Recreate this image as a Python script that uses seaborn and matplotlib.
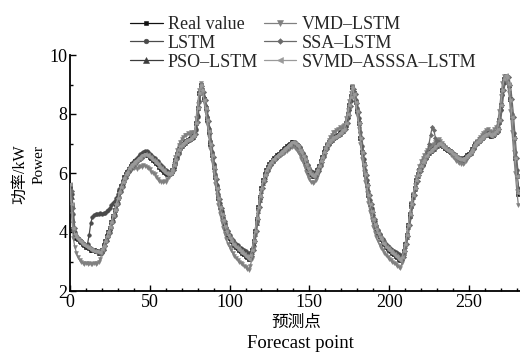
import numpy as np
import pandas as pd
import matplotlib
matplotlib.use("Agg")
import matplotlib.pyplot as plt
from matplotlib.ticker import MultipleLocator
import seaborn as sns

# Forecast points 0..281 and the measured / predicted power (kW)
real_value = [
    5.60, 4.90, 4.10, 3.90, 3.80, 3.75, 3.70, 3.65, 3.60, 3.55,
    3.50, 3.50, 3.45, 3.40, 3.40, 3.38, 3.35, 3.35, 3.30, 3.32,
    3.40, 3.55, 3.70, 3.85, 4.00, 4.15, 4.35, 4.55, 4.75, 4.95,
    5.15, 5.35, 5.55, 5.70, 5.85, 5.95, 6.05, 6.15, 6.25, 6.30,
    6.35, 6.40, 6.45, 6.50, 6.55, 6.60, 6.62, 6.65, 6.62, 6.60,
    6.55, 6.50, 6.45, 6.40, 6.35, 6.30, 6.22, 6.15, 6.10, 6.05,
    6.00, 5.98, 5.97, 6.00, 6.10, 6.25, 6.45, 6.65, 6.80, 6.90,
    6.95, 7.00, 7.05, 7.10, 7.12, 7.15, 7.20, 7.25, 7.30, 7.70,
    8.20, 8.70, 9.00, 8.80, 8.50, 8.20, 7.80, 7.40, 7.00, 6.60,
    6.20, 5.85, 5.50, 5.15, 4.85, 4.60, 4.40, 4.20, 4.05, 3.90,
    3.80, 3.70, 3.62, 3.55, 3.50, 3.45, 3.40, 3.35, 3.30, 3.25,
    3.20, 3.15, 3.10, 3.20, 3.40, 3.70, 4.05, 4.45, 4.85, 5.20,
    5.50, 5.75, 5.95, 6.10, 6.20, 6.30, 6.38, 6.45, 6.50, 6.55,
    6.60, 6.65, 6.70, 6.75, 6.80, 6.85, 6.90, 6.95, 7.00, 7.05,
    7.05, 7.00, 6.95, 6.90, 6.80, 6.70, 6.60, 6.45, 6.30, 6.15,
    6.05, 5.95, 5.90, 5.92, 6.00, 6.10, 6.25, 6.40, 6.55, 6.70,
    6.85, 6.95, 7.05, 7.10, 7.15, 7.20, 7.22, 7.25, 7.30, 7.35,
    7.40, 7.45, 7.50, 7.70, 8.00, 8.30, 8.60, 8.90, 8.70, 8.40,
    8.10, 7.70, 7.20, 6.70, 6.30, 5.95, 5.60, 5.25, 4.95, 4.70,
    4.45, 4.25, 4.10, 3.95, 3.85, 3.75, 3.65, 3.58, 3.50, 3.45,
    3.40, 3.35, 3.30, 3.25, 3.20, 3.15, 3.10, 3.05, 3.15, 3.35,
    3.60, 3.90, 4.25, 4.60, 4.95, 5.25, 5.50, 5.75, 5.95, 6.10,
    6.25, 6.35, 6.45, 6.55, 6.62, 6.70, 6.75, 6.80, 6.85, 6.90,
    6.95, 7.00, 6.98, 6.95, 6.90, 6.85, 6.80, 6.78, 6.75, 6.70,
    6.65, 6.60, 6.55, 6.50, 6.50, 6.45, 6.45, 6.50, 6.55, 6.60,
    6.65, 6.70, 6.80, 6.90, 7.00, 7.05, 7.10, 7.15, 7.20, 7.25,
    7.30, 7.32, 7.35, 7.30, 7.25, 7.30, 7.35, 7.40, 7.50, 7.80,
    8.30, 8.80, 9.20, 9.30, 9.25, 9.00, 8.50, 7.90, 7.20, 6.50,
    5.90, 5.30,
]

lstm = [
    5.50, 5.30, 4.60, 4.00, 3.85, 3.78, 3.72, 3.68, 3.62, 3.58,
    3.55, 3.60, 3.90, 4.30, 4.50, 4.58, 4.60, 4.62, 4.62, 4.65,
    4.62, 4.64, 4.66, 4.70, 4.75, 4.82, 4.90, 5.00, 5.05, 5.15,
    5.30, 5.45, 5.60, 5.75, 5.88, 5.98, 6.08, 6.18, 6.28, 6.35,
    6.40, 6.45, 6.52, 6.58, 6.63, 6.68, 6.72, 6.75, 6.74, 6.70,
    6.66, 6.60, 6.55, 6.50, 6.45, 6.40, 6.33, 6.26, 6.20, 6.14,
    6.10, 6.06, 6.04, 6.05, 6.10, 6.20, 6.35, 6.55, 6.72, 6.85,
    6.92, 6.98, 7.02, 7.06, 7.10, 7.12, 7.16, 7.20, 7.24, 7.45,
    7.90, 8.40, 8.75, 8.80, 8.55, 8.25, 7.90, 7.50, 7.10, 6.70,
    6.32, 5.95, 5.60, 5.28, 4.98, 4.72, 4.50, 4.32, 4.15, 4.02,
    3.90, 3.80, 3.72, 3.65, 3.60, 3.55, 3.50, 3.46, 3.42, 3.38,
    3.35, 3.30, 3.28, 3.30, 3.42, 3.65, 3.98, 4.35, 4.75, 5.12,
    5.42, 5.68, 5.90, 6.05, 6.18, 6.28, 6.36, 6.43, 6.49, 6.54,
    6.59, 6.64, 6.69, 6.74, 6.79, 6.84, 6.89, 6.94, 6.99, 7.03,
    7.06, 7.04, 7.00, 6.95, 6.88, 6.78, 6.68, 6.55, 6.42, 6.28,
    6.17, 6.08, 6.02, 6.00, 6.04, 6.12, 6.22, 6.36, 6.50, 6.65,
    6.80, 6.92, 7.02, 7.08, 7.13, 7.18, 7.21, 7.24, 7.28, 7.33,
    7.38, 7.43, 7.48, 7.60, 7.85, 8.15, 8.45, 8.72, 8.70, 8.48,
    8.20, 7.85, 7.40, 6.92, 6.48, 6.10, 5.75, 5.40, 5.08, 4.82,
    4.58, 4.38, 4.20, 4.06, 3.94, 3.84, 3.75, 3.68, 3.60, 3.54,
    3.49, 3.44, 3.40, 3.36, 3.32, 3.28, 3.24, 3.20, 3.22, 3.36,
    3.58, 3.86, 4.18, 4.52, 4.86, 5.18, 5.45, 5.70, 5.90, 6.06,
    6.20, 6.32, 6.42, 6.52, 6.60, 6.67, 6.73, 6.78, 6.83, 6.88,
    6.93, 6.97, 6.98, 6.96, 6.92, 6.87, 6.82, 6.79, 6.76, 6.72,
    6.67, 6.62, 6.57, 6.53, 6.51, 6.48, 6.47, 6.49, 6.53, 6.58,
    6.63, 6.68, 6.76, 6.86, 6.96, 7.03, 7.08, 7.13, 7.18, 7.23,
    7.28, 7.31, 7.33, 7.31, 7.27, 7.28, 7.33, 7.38, 7.46, 7.70,
    8.15, 8.65, 9.05, 9.20, 9.18, 8.95, 8.55, 8.00, 7.35, 6.70,
    6.10, 5.50,
]

pso_lstm = [
    5.55, 5.20, 4.40, 4.05, 3.88, 3.80, 3.74, 3.69, 3.64, 3.58,
    3.53, 3.50, 3.48, 3.44, 3.41, 3.40, 3.37, 3.35, 3.33, 3.30,
    3.34, 3.45, 3.60, 3.76, 3.92, 4.07, 4.24, 4.44, 4.64, 4.85,
    5.05, 5.25, 5.45, 5.63, 5.78, 5.90, 6.00, 6.10, 6.20, 6.27,
    6.32, 6.38, 6.43, 6.48, 6.53, 6.58, 6.61, 6.64, 6.63, 6.61,
    6.57, 6.52, 6.47, 6.42, 6.37, 6.32, 6.25, 6.18, 6.12, 6.07,
    6.02, 5.99, 5.97, 5.99, 6.06, 6.18, 6.36, 6.56, 6.74, 6.86,
    6.93, 6.98, 7.03, 7.08, 7.11, 7.14, 7.18, 7.23, 7.28, 7.55,
    8.00, 8.50, 8.85, 8.85, 8.60, 8.30, 7.95, 7.55, 7.15, 6.75,
    6.35, 5.98, 5.62, 5.28, 4.96, 4.70, 4.48, 4.28, 4.10, 3.96,
    3.84, 3.74, 3.66, 3.58, 3.52, 3.47, 3.42, 3.37, 3.32, 3.27,
    3.22, 3.17, 3.12, 3.16, 3.32, 3.58, 3.92, 4.30, 4.70, 5.08,
    5.40, 5.66, 5.88, 6.04, 6.16, 6.26, 6.35, 6.42, 6.48, 6.53,
    6.58, 6.63, 6.68, 6.73, 6.78, 6.83, 6.88, 6.93, 6.98, 7.03,
    7.05, 7.02, 6.97, 6.92, 6.84, 6.74, 6.64, 6.50, 6.35, 6.20,
    6.08, 5.98, 5.92, 5.91, 5.97, 6.06, 6.20, 6.35, 6.50, 6.65,
    6.80, 6.91, 7.01, 7.08, 7.13, 7.18, 7.21, 7.24, 7.28, 7.33,
    7.38, 7.43, 7.48, 7.64, 7.92, 8.22, 8.52, 8.80, 8.72, 8.45,
    8.16, 7.78, 7.30, 6.80, 6.38, 6.02, 5.68, 5.33, 5.02, 4.76,
    4.52, 4.30, 4.14, 3.99, 3.88, 3.78, 3.68, 3.60, 3.53, 3.47,
    3.42, 3.37, 3.32, 3.27, 3.22, 3.17, 3.12, 3.08, 3.12, 3.30,
    3.54, 3.84, 4.18, 4.53, 4.88, 5.19, 5.45, 5.70, 5.91, 6.07,
    6.22, 6.33, 6.43, 6.53, 6.60, 6.68, 6.73, 6.78, 6.83, 6.88,
    6.93, 6.98, 6.98, 6.95, 6.91, 6.86, 6.81, 6.78, 6.75, 6.71,
    6.66, 6.61, 6.56, 6.51, 6.50, 6.46, 6.45, 6.48, 6.53, 6.58,
    6.63, 6.68, 6.77, 6.87, 6.97, 7.03, 7.08, 7.13, 7.18, 7.23,
    7.28, 7.31, 7.34, 7.31, 7.26, 7.28, 7.33, 7.38, 7.47, 7.72,
    8.20, 8.70, 9.10, 9.25, 9.22, 8.98, 8.52, 7.95, 7.28, 6.60,
    6.00, 5.40,
]

vmd_lstm = [
    5.40, 4.60, 3.80, 3.50, 3.30, 3.15, 3.05, 3.00, 2.95, 2.92,
    2.95, 2.90, 2.95, 2.92, 2.90, 2.95, 2.92, 2.95, 3.00, 3.10,
    3.25, 3.45, 3.62, 3.80, 3.96, 4.12, 4.30, 4.50, 4.70, 4.90,
    5.10, 5.30, 5.50, 5.66, 5.80, 5.90, 5.98, 6.05, 6.12, 6.15,
    6.18, 6.20, 6.15, 6.22, 6.25, 6.20, 6.28, 6.25, 6.22, 6.18,
    6.12, 6.05, 6.00, 5.95, 5.88, 5.80, 5.72, 5.70, 5.68, 5.72,
    5.70, 5.78, 5.85, 5.95, 6.10, 6.30, 6.55, 6.78, 6.95, 7.05,
    7.15, 7.22, 7.28, 7.30, 7.35, 7.30, 7.38, 7.35, 7.40, 7.85,
    8.35, 8.80, 9.05, 8.75, 8.40, 8.05, 7.65, 7.22, 6.80, 6.40,
    6.00, 5.62, 5.25, 4.90, 4.60, 4.35, 4.12, 3.92, 3.75, 3.60,
    3.48, 3.38, 3.28, 3.20, 3.12, 3.06, 3.00, 2.95, 2.90, 2.85,
    2.82, 2.76, 2.72, 2.85, 3.10, 3.45, 3.85, 4.30, 4.72, 5.10,
    5.42, 5.68, 5.90, 6.05, 6.15, 6.24, 6.32, 6.38, 6.44, 6.48,
    6.52, 6.56, 6.60, 6.64, 6.68, 6.72, 6.76, 6.80, 6.85, 6.88,
    6.90, 6.85, 6.78, 6.70, 6.60, 6.48, 6.36, 6.20, 6.05, 5.90,
    5.78, 5.70, 5.66, 5.68, 5.75, 5.88, 6.05, 6.25, 6.45, 6.65,
    6.85, 7.00, 7.12, 7.22, 7.30, 7.38, 7.40, 7.45, 7.50, 7.55,
    7.50, 7.58, 7.62, 7.85, 8.15, 8.45, 8.72, 8.95, 8.65, 8.30,
    7.95, 7.50, 6.98, 6.48, 6.05, 5.68, 5.32, 4.98, 4.68, 4.42,
    4.18, 3.98, 3.82, 3.68, 3.56, 3.46, 3.38, 3.30, 3.22, 3.16,
    3.10, 3.04, 2.98, 2.94, 2.90, 2.86, 2.82, 2.78, 2.95, 3.20,
    3.50, 3.85, 4.22, 4.60, 4.98, 5.30, 5.58, 5.85, 6.08, 6.25,
    6.40, 6.52, 6.62, 6.70, 6.78, 6.85, 6.90, 6.95, 7.00, 7.05,
    7.10, 7.15, 7.10, 7.02, 6.95, 6.88, 6.80, 6.75, 6.70, 6.62,
    6.55, 6.48, 6.42, 6.38, 6.35, 6.32, 6.30, 6.35, 6.42, 6.50,
    6.58, 6.66, 6.78, 6.90, 7.02, 7.10, 7.16, 7.22, 7.28, 7.35,
    7.40, 7.45, 7.50, 7.42, 7.35, 7.40, 7.48, 7.55, 7.70, 8.10,
    8.60, 9.05, 9.30, 9.25, 9.05, 8.70, 8.10, 7.40, 6.70, 6.00,
    5.40, 4.90,
]

ssa_lstm = [
    5.58, 5.40, 4.80, 4.15, 3.90, 3.80, 3.74, 3.70, 3.64, 3.60,
    3.55, 3.50, 3.48, 3.45, 3.40, 3.38, 3.36, 3.33, 3.32, 3.28,
    3.30, 3.38, 3.52, 3.68, 3.84, 3.98, 4.14, 4.34, 4.54, 4.74,
    4.94, 5.14, 5.34, 5.52, 5.68, 5.82, 5.94, 6.04, 6.14, 6.22,
    6.28, 6.34, 6.38, 6.44, 6.48, 6.52, 6.56, 6.60, 6.62, 6.60,
    6.58, 6.54, 6.48, 6.43, 6.38, 6.33, 6.27, 6.20, 6.13, 6.08,
    6.03, 5.99, 5.96, 5.96, 6.00, 6.10, 6.26, 6.46, 6.66, 6.82,
    6.92, 6.98, 7.02, 7.08, 7.12, 7.14, 7.16, 7.22, 7.26, 7.32,
    7.72, 8.24, 8.72, 8.95, 8.76, 8.46, 8.15, 7.75, 7.35, 6.95,
    6.55, 6.15, 5.80, 5.45, 5.12, 4.82, 4.58, 4.38, 4.18, 4.03,
    3.88, 3.78, 3.68, 3.60, 3.53, 3.48, 3.43, 3.38, 3.33, 3.28,
    3.23, 3.18, 3.13, 3.08, 3.18, 3.38, 3.68, 4.04, 4.44, 4.84,
    5.18, 5.48, 5.72, 5.92, 6.08, 6.18, 6.28, 6.36, 6.43, 6.48,
    6.53, 6.58, 6.63, 6.68, 6.73, 6.78, 6.83, 6.88, 6.93, 6.98,
    7.02, 7.04, 6.99, 6.93, 6.88, 6.78, 6.68, 6.58, 6.43, 6.28,
    6.14, 6.04, 5.94, 5.89, 5.91, 5.98, 6.08, 6.23, 6.38, 6.53,
    6.68, 6.83, 6.94, 7.04, 7.09, 7.14, 7.19, 7.21, 7.24, 7.29,
    7.34, 7.39, 7.44, 7.49, 7.68, 7.98, 8.28, 8.58, 8.86, 8.68,
    8.38, 8.08, 7.68, 7.18, 6.68, 6.28, 5.94, 5.58, 5.24, 4.94,
    4.68, 4.44, 4.24, 4.08, 3.94, 3.84, 3.74, 3.64, 3.57, 3.50,
    3.44, 3.39, 3.34, 3.29, 3.24, 3.19, 3.14, 3.09, 3.04, 3.14,
    3.34, 3.58, 3.88, 4.24, 4.58, 4.94, 5.24, 5.48, 5.74, 5.94,
    6.08, 6.24, 6.34, 6.46, 6.70, 7.00, 7.30, 7.55, 7.45, 7.20,
    7.10, 7.05, 7.00, 6.96, 6.92, 6.86, 6.82, 6.78, 6.76, 6.72,
    6.68, 6.63, 6.58, 6.53, 6.49, 6.48, 6.44, 6.45, 6.50, 6.55,
    6.60, 6.65, 6.70, 6.80, 6.90, 6.99, 7.05, 7.10, 7.15, 7.20,
    7.25, 7.30, 7.32, 7.35, 7.30, 7.25, 7.30, 7.35, 7.40, 7.50,
    7.80, 8.30, 8.80, 9.20, 9.30, 9.25, 9.00, 8.50, 7.90, 7.20,
    6.50, 5.90,
]

svmd_asssa_lstm = [
    5.62, 4.95, 4.15, 3.92, 3.82, 3.76, 3.70, 3.66, 3.61, 3.56,
    3.51, 3.49, 3.46, 3.41, 3.39, 3.37, 3.36, 3.34, 3.31, 3.33,
    3.41, 3.54, 3.71, 3.86, 3.99, 4.16, 4.34, 4.56, 4.74, 4.96,
    5.14, 5.36, 5.54, 5.71, 5.84, 5.96, 6.04, 6.16, 6.24, 6.31,
    6.34, 6.41, 6.44, 6.51, 6.54, 6.61, 6.61, 6.66, 6.61, 6.61,
    6.54, 6.51, 6.44, 6.41, 6.34, 6.31, 6.21, 6.16, 6.09, 6.06,
    5.99, 5.99, 5.96, 6.01, 6.09, 6.26, 6.44, 6.66, 6.79, 6.91,
    6.94, 7.01, 7.04, 7.11, 7.11, 7.16, 7.19, 7.26, 7.29, 7.71,
    8.19, 8.71, 8.99, 8.81, 8.49, 8.21, 7.79, 7.41, 6.99, 6.61,
    6.19, 5.86, 5.49, 5.16, 4.84, 4.61, 4.39, 4.21, 4.04, 3.91,
    3.79, 3.71, 3.61, 3.56, 3.49, 3.46, 3.39, 3.36, 3.29, 3.26,
    3.19, 3.16, 3.09, 3.21, 3.39, 3.71, 4.04, 4.46, 4.84, 5.21,
    5.49, 5.76, 5.94, 6.11, 6.19, 6.31, 6.37, 6.46, 6.49, 6.56,
    6.59, 6.66, 6.69, 6.76, 6.79, 6.86, 6.89, 6.96, 6.99, 7.06,
    7.04, 7.01, 6.94, 6.91, 6.79, 6.71, 6.59, 6.46, 6.29, 6.16,
    6.04, 5.96, 5.89, 5.93, 5.99, 6.11, 6.24, 6.41, 6.54, 6.71,
    6.84, 6.96, 7.04, 7.11, 7.14, 7.21, 7.21, 7.26, 7.29, 7.36,
    7.39, 7.46, 7.49, 7.71, 7.99, 8.31, 8.59, 8.91, 8.69, 8.41,
    8.09, 7.71, 7.19, 6.71, 6.29, 5.96, 5.59, 5.26, 4.94, 4.71,
    4.44, 4.26, 4.09, 3.96, 3.84, 3.76, 3.64, 3.59, 3.49, 3.46,
    3.39, 3.36, 3.29, 3.26, 3.19, 3.16, 3.09, 3.06, 3.14, 3.36,
    3.59, 3.91, 4.24, 4.61, 4.94, 5.26, 5.49, 5.76, 5.94, 6.11,
    6.24, 6.36, 6.44, 6.56, 6.61, 6.71, 6.74, 6.81, 6.84, 6.91,
    6.94, 7.01, 6.97, 6.96, 6.89, 6.86, 6.79, 6.79, 6.74, 6.71,
    6.64, 6.61, 6.54, 6.51, 6.49, 6.46, 6.44, 6.51, 6.54, 6.61,
    6.64, 6.71, 6.79, 6.91, 6.99, 7.06, 7.09, 7.16, 7.19, 7.26,
    7.29, 7.33, 7.34, 7.31, 7.24, 7.31, 7.34, 7.41, 7.49, 7.81,
    8.29, 8.81, 9.19, 9.31, 9.24, 9.01, 8.49, 7.91, 7.19, 6.51,
    5.89, 5.31,
]

series_names = ["Real value", "LSTM", "PSO–LSTM",
                "VMD–LSTM", "SSA–LSTM", "SVMD–ASSSA–LSTM"]
series_values = [real_value, lstm, pso_lstm, vmd_lstm, ssa_lstm, svmd_asssa_lstm]

sns.set_theme(style="ticks")
plt.rcParams["font.family"] = ["Liberation Serif", "Noto Sans CJK SC"]

colors = ["#111111", "#4a4a4a", "#3c3c3c", "#808080", "#6a6a6a", "#9a9a9a"]
markers = ["s", "o", "^", "v", "D", "<"]
msizes = [2.6, 2.6, 2.8, 2.8, 2.2, 2.8]

frames = []
for name, vals in zip(series_names, series_values):
    frames.append(pd.DataFrame({"point": np.arange(len(vals)),
                                "power": vals, "model": name}))
df = pd.concat(frames, ignore_index=True)

fig = plt.figure(figsize=(5.2, 3.54), dpi=100)
ax = fig.add_axes([70 / 520, 1 - 291 / 354, 1 - 70 / 520, (291 - 55) / 354])

for i, name in enumerate(series_names):
    sub = df[df["model"] == name]
    sns.lineplot(data=sub, x="point", y="power", ax=ax, color=colors[i],
                 marker=markers[i], markersize=msizes[i], markeredgewidth=0.4,
                 markeredgecolor=colors[i], linewidth=0.9, label=name,
                 zorder=2 + i, legend=False)

ax.set_xlim(0, 282)
ax.set_ylim(2, 10)
ax.xaxis.set_major_locator(MultipleLocator(50))
ax.xaxis.set_minor_locator(MultipleLocator(10))
ax.yaxis.set_major_locator(MultipleLocator(2))
ax.yaxis.set_minor_locator(MultipleLocator(1))
ax.tick_params(which="both", direction="in", colors="black",
               labelsize=13, width=1.0)
ax.tick_params(which="major", length=4.5, pad=2)
ax.tick_params(which="minor", length=2.5)
for side in ("top", "right"):
    ax.spines[side].set_visible(False)
for side in ("left", "bottom"):
    ax.spines[side].set_color("black")
    ax.spines[side].set_linewidth(1.3)

ax.set_xlabel("")
ax.set_ylabel("")
fig.text(296 / 520, 1 - 323 / 354, "预测点", ha="center", va="center",
         fontsize=12, color="black")
fig.text(300 / 520, 1 - 344 / 354, "Forecast point", ha="center",
         va="center", fontsize=13.5, color="black")
fig.text(20 / 520, 1 - 174 / 354, "功率/kW", rotation=90, ha="center",
         va="center", fontsize=11.5, color="black")
fig.text(39 / 520, 1 - 165 / 354, "Power", rotation=90, ha="center",
         va="center", fontsize=11, color="black")

handles, labels = ax.get_legend_handles_labels()
leg = fig.legend(handles, labels, ncol=2, loc="upper left",
                 bbox_to_anchor=(130 / 520, 1 - 16 / 354), frameon=False,
                 fontsize=13, handlelength=1.8, handletextpad=0.3,
                 columnspacing=0.3, labelspacing=0.1, borderpad=0,
                 borderaxespad=0, markerscale=1.3)

fig.savefig("out.png", dpi=100)
